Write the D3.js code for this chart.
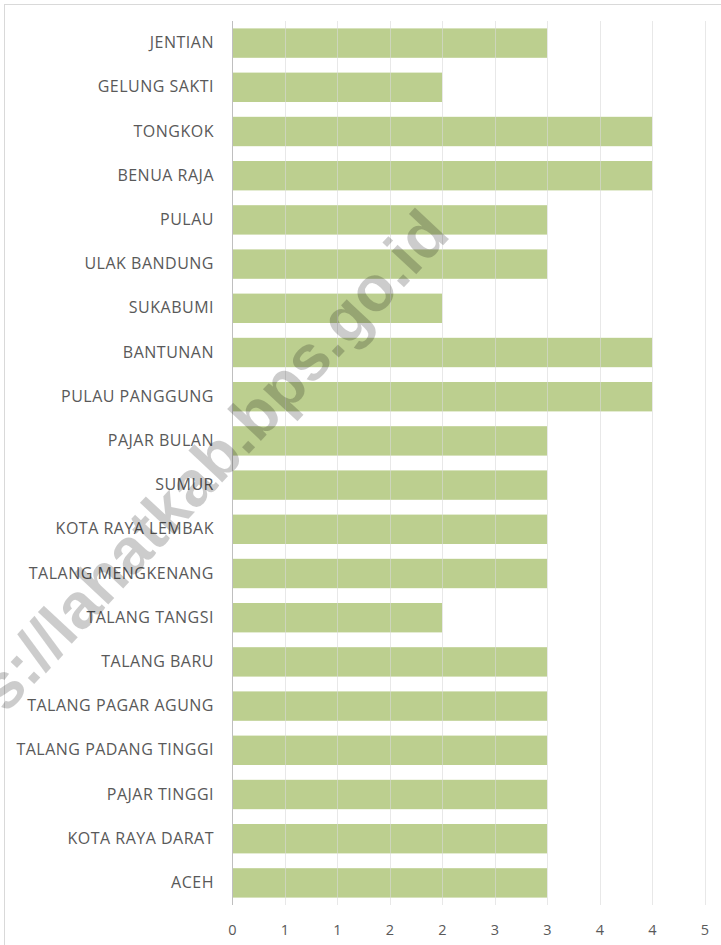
<!DOCTYPE html>
<html>
<head>
<meta charset="utf-8">
<script src="https://cdn.jsdelivr.net/npm/d3@7"></script>
<style>
  html, body { margin: 0; padding: 0; background: #fff; }
  svg { display: block; }
</style>
</head>
<body>
<svg id="chart" width="721" height="945"></svg>
<script>
const categories = ["JENTIAN","GELUNG SAKTI","TONGKOK","BENUA RAJA","PULAU","ULAK BANDUNG","SUKABUMI","BANTUNAN","PULAU PANGGUNG","PAJAR BULAN","SUMUR","KOTA RAYA LEMBAK","TALANG MENGKENANG","TALANG TANGSI","TALANG BARU","TALANG PAGAR AGUNG","TALANG PADANG TINGGI","PAJAR TINGGI","KOTA RAYA DARAT","ACEH"];
const values = [3,2,4,4,3,3,2,4,4,3,3,3,3,2,3,3,3,3,3,3];
const tickValues = [0,0.5,1,1.5,2,2.5,3,3.5,4,4.5];
const tickLabels = ["0","1","1","2","2","3","3","4","4","5"];
const watermark = "https://lahatkab.bps.go.id";

const svg = d3.select("#chart");
const plot = {left: 232, right: 704.5, top: 21, bottom: 905};

// chart border
svg.append("rect").attr("x", 4.5).attr("y", 4.5).attr("width", 800).attr("height", 1000)
  .attr("fill", "none").attr("stroke", "#d9d9d9").attr("stroke-width", 1);

const x = d3.scaleLinear().domain([0, 4.5]).range([plot.left, plot.right]);
const y = d3.scaleBand().domain(categories).range([plot.top, plot.bottom])
  .paddingInner(0.335).paddingOuter(0.1675);

// bars
svg.append("g").selectAll("rect").data(categories).join("rect")
  .attr("x", x(0))
  .attr("y", d => y(d))
  .attr("width", (d, i) => x(values[i]) - x(0))
  .attr("height", y.bandwidth())
  .attr("fill", "#bccf8f");

// gridlines (drawn over bars, faint)
svg.append("g").selectAll("line").data(tickValues.slice(1)).join("line")
  .attr("x1", d => Math.round(x(d)) + 0.5).attr("x2", d => Math.round(x(d)) + 0.5)
  .attr("y1", plot.top).attr("y2", plot.bottom)
  .attr("stroke", "#d9d9d9").attr("stroke-opacity", 0.6).attr("stroke-width", 1);

// y axis line
svg.append("line")
  .attr("x1", Math.round(x(0)) + 0.5).attr("x2", Math.round(x(0)) + 0.5)
  .attr("y1", plot.top).attr("y2", plot.bottom)
  .attr("stroke", "#bfbfbf").attr("stroke-width", 1);

// category labels
const yAxis = d3.axisLeft(y).tickSize(0).tickPadding(18);
const gy = svg.append("g").attr("transform", `translate(${x(0)},0)`).call(yAxis);
gy.select(".domain").remove();
gy.selectAll("text")
  .attr("fill", "#595959")
  .style("font-family", "'Open Sans', sans-serif")
  .style("font-size", "16px")
  .style("letter-spacing", "0.5px");

// x axis labels
const xAxis = d3.axisBottom(x).tickValues(tickValues)
  .tickFormat((d, i) => tickLabels[i]).tickSize(0).tickPadding(20);
const gx = svg.append("g").attr("transform", `translate(0,${plot.bottom})`).call(xAxis);
gx.select(".domain").remove();
gx.selectAll("text")
  .attr("fill", "#595959")
  .style("font-family", "'Open Sans', sans-serif")
  .style("font-size", "14.5px");

// watermark
svg.append("text")
  .attr("transform", "translate(452,236) rotate(-47)")
  .attr("text-anchor", "end")
  .style("font-family", "'Liberation Sans', Arial, sans-serif")
  .style("font-weight", "bold")
  .style("font-size", "64px")
  .attr("fill", "#000")
  .attr("fill-opacity", 0.2)
  .text(watermark);
</script>
</body>
</html>
